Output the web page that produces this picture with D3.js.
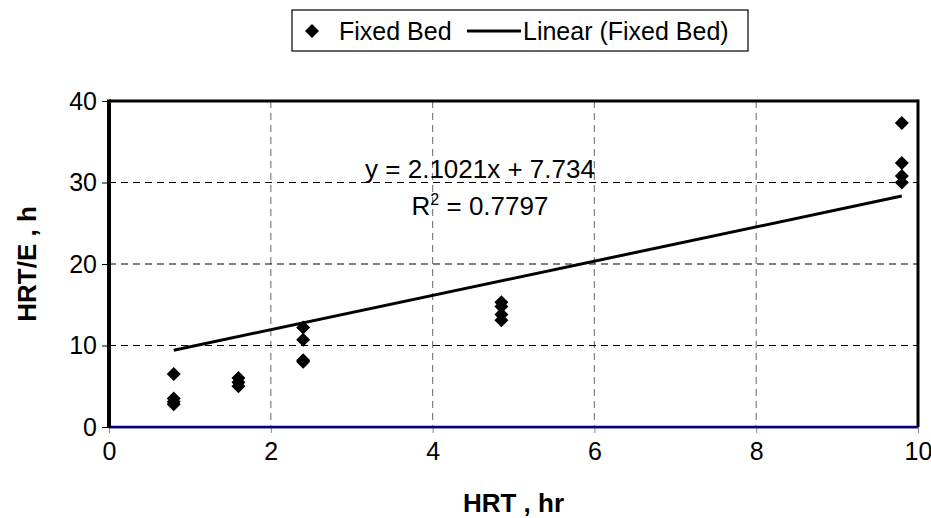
<!DOCTYPE html>
<html>
<head>
<meta charset="utf-8">
<script src="https://cdn.jsdelivr.net/npm/d3@7"></script>
<style>
  body { margin: 0; background: #fff; }
  text { font-family: "Liberation Sans", Arial, sans-serif; }
</style>
</head>
<body>
<svg class="chart"></svg>
<script>
// HRT (hr) for each measured point, and HRT/E (h)
var hrt  = [0.8, 0.8, 0.8, 0.8, 1.6, 1.6, 1.6, 2.4, 2.4, 2.4, 2.4, 4.85, 4.85, 4.85, 4.85, 9.8, 9.8, 9.8, 9.8];
var hrtE = [6.5, 3.5, 3.1, 2.8, 6.0, 5.5, 5.0, 12.2, 10.7, 8.2, 8.0, 15.3, 14.8, 13.8, 13.1, 37.3, 32.4, 30.8, 30.0];

var xTicks = [0, 2, 4, 6, 8, 10];
var yTicks = [0, 10, 20, 30, 40];

// trendline as reported on the chart
var slope = 2.1021, intercept = 7.734, r2 = 0.7797;

var W = 931, H = 518;
var margin = {top: 101, right: 13, bottom: 91, left: 109}
    , width = W - margin.left - margin.right
    , height = H - margin.top - margin.bottom;

var x = d3.scaleLinear().domain([0, 10]).range([0, width]);
var y = d3.scaleLinear().domain([0, 40]).range([height, 0]);

var chart = d3.select('.chart')
    .attr('width', W)
    .attr('height', H);

var main = chart.append('g')
    .attr('transform', 'translate(' + margin.left + ',' + margin.top + ')');

var fs = 25, fsb = 26;

// grid
main.selectAll('.vgrid')
    .data(xTicks.slice(1, -1))
    .enter().append('line')
    .attr('x1', function(d) { return x(d); })
    .attr('x2', function(d) { return x(d); })
    .attr('y1', 0).attr('y2', height)
    .attr('stroke', '#808080').attr('stroke-width', 1.2)
    .attr('stroke-dasharray', '7,5');

main.selectAll('.hgrid')
    .data(yTicks.slice(1, -1))
    .enter().append('line')
    .attr('x1', 0).attr('x2', width)
    .attr('y1', function(d) { return y(d); })
    .attr('y2', function(d) { return y(d); })
    .attr('stroke', '#000').attr('stroke-width', 1.2)
    .attr('stroke-dasharray', '7,5');

// axes
var yAxis = d3.axisLeft(y).tickValues(yTicks).tickSize(7).tickPadding(5);
var gy = main.append('g').call(yAxis);
gy.select('.domain').remove();
gy.selectAll('text').style('font-size', fs + 'px').attr('fill', '#000');

var xAxis = d3.axisBottom(x).tickValues(xTicks).tickSize(6).tickPadding(9);
var gx = main.append('g')
    .attr('transform', 'translate(0,' + height + ')')
    .call(xAxis);
gx.select('.domain').remove();
gx.selectAll('line').attr('stroke', '#8080c0');
gx.selectAll('text').style('font-size', fs + 'px').attr('fill', '#000');

// frame
main.append('line').attr('x1', 0).attr('x2', width).attr('y1', 0).attr('y2', 0)
    .attr('stroke', '#000').attr('stroke-width', 3);
main.append('line').attr('x1', width).attr('x2', width).attr('y1', -1.5).attr('y2', height)
    .attr('stroke', '#000').attr('stroke-width', 3);
main.append('line').attr('x1', 0).attr('x2', width).attr('y1', height + 1).attr('y2', height + 1)
    .attr('stroke', '#808080').attr('stroke-width', 1);
main.append('line').attr('x1', 0).attr('x2', width).attr('y1', y(0)).attr('y2', y(0))
    .attr('stroke', '#000080').attr('stroke-width', 2.5);
main.append('line').attr('x1', 0).attr('x2', 0).attr('y1', -1.5).attr('y2', height)
    .attr('stroke', '#000').attr('stroke-width', 4);

// trendline
var xr = d3.extent(hrt);
main.append('line')
    .attr('x1', x(xr[0])).attr('y1', y(slope * xr[0] + intercept))
    .attr('x2', x(xr[1])).attr('y2', y(slope * xr[1] + intercept))
    .attr('stroke', '#000').attr('stroke-width', 3);

// points
var diamond = {
  draw: function(ctx, size) {
    var r = Math.sqrt(size / 2);
    ctx.moveTo(0, -r); ctx.lineTo(r, 0); ctx.lineTo(0, r); ctx.lineTo(-r, 0); ctx.closePath();
  }
};
var sym = d3.symbol().type(diamond).size(98);

main.append('g').selectAll('path')
    .data(hrt)
    .enter().append('path')
    .attr('d', sym)
    .attr('transform', function(d, i) { return 'translate(' + x(d) + ',' + y(hrtE[i]) + ')'; })
    .attr('fill', '#000');

// equation
main.append('text')
    .attr('x', 371).attr('y', 77)
    .style('font-size', fsb + 'px').style('text-anchor', 'middle')
    .text('y = ' + slope + 'x + ' + intercept);
var rt = main.append('text')
    .attr('x', 371).attr('y', 114)
    .style('font-size', fsb + 'px').style('text-anchor', 'middle');
rt.append('tspan').text('R');
rt.append('tspan').attr('dy', -10).style('font-size', '16px').text('2');
rt.append('tspan').attr('dy', 10).text(' = ' + r2);

// axis titles
chart.append('text')
    .attr('x', margin.left + width / 2).attr('y', 512)
    .style('font-size', fsb + 'px').style('font-weight', 'bold')
    .style('text-anchor', 'middle')
    .text('HRT , hr');

chart.append('text')
    .attr('transform', 'translate(36,' + (margin.top + height / 2) + ') rotate(-90)')
    .style('font-size', fsb + 'px').style('font-weight', 'bold')
    .style('text-anchor', 'middle')
    .text('HRT/E , h');

// legend
var lg = chart.append('g');
lg.append('rect')
    .attr('x', 292).attr('y', 10).attr('width', 456).attr('height', 41)
    .attr('fill', '#fff').attr('stroke', '#000').attr('stroke-width', 1.2);
lg.append('path').attr('d', sym).attr('transform', 'translate(312,31)');
lg.append('text').attr('x', 339).attr('y', 40).style('font-size', fs + 'px').text('Fixed Bed');
lg.append('line').attr('x1', 467).attr('x2', 521).attr('y1', 31).attr('y2', 31)
    .attr('stroke', '#000').attr('stroke-width', 3);
lg.append('text').attr('x', 523).attr('y', 40).style('font-size', fs + 'px').text('Linear (Fixed Bed)');
</script>
</body>
</html>
